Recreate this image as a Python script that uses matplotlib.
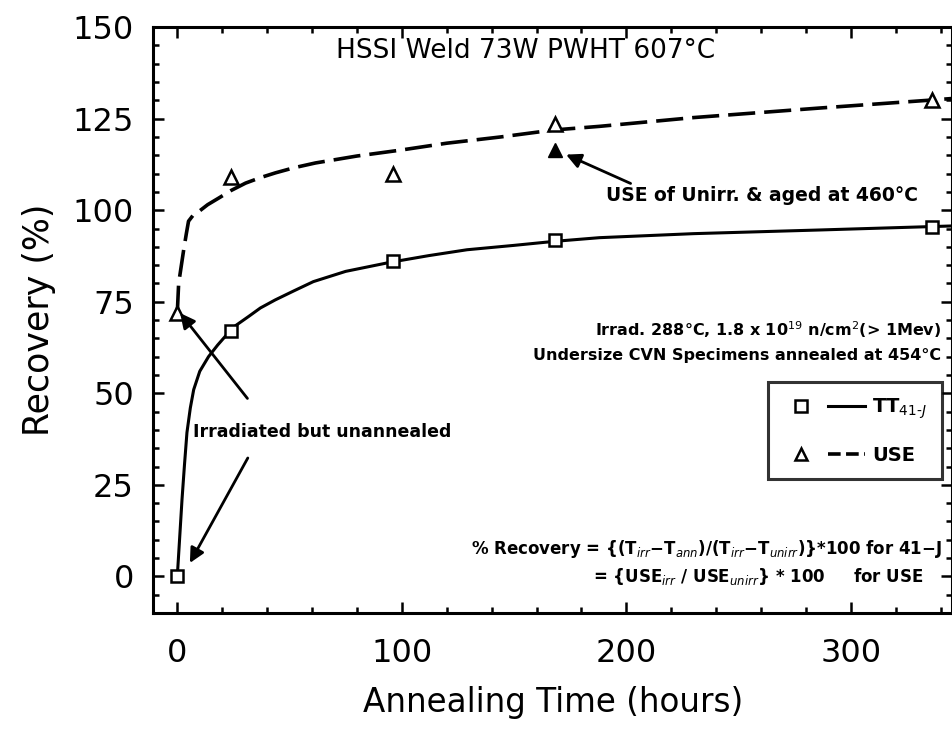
import numpy as np
import matplotlib
matplotlib.use("Agg")
import matplotlib.pyplot as plt
from matplotlib.lines import Line2D
from matplotlib.legend_handler import HandlerTuple
from matplotlib.ticker import MultipleLocator

# measured points
hours = [0, 24, 96, 168, 336]
tt41j = [0, 67, 86, 92, 95.5]
use = [72, 109, 110, 123.5, 130]
aged_x = [168]
aged_use = [116.5]

# fitted curves as drawn
tt_curve_x = [0, 1, 2.1, 3.2, 4.3, 5.8, 7.3, 10, 13.9, 18, 22, 26, 31.8, 37, 43.6,
              52, 60.6, 75, 95, 112, 129, 150, 168, 188, 230, 286, 345]
tt_curve_y = [0, 10, 21, 30.5, 39.3, 46, 51, 56, 60, 63.2, 66, 68.5, 71, 73.3, 75.5,
              78, 80.5, 83.3, 85.8, 87.6, 89.2, 90.4, 91.5, 92.5, 93.6, 94.6, 95.7]
use_curve_x = [0, 0.6, 1.7, 2.8, 4, 5, 7, 9.5, 13.5, 18.4, 24, 30.4, 37, 43.7, 52,
               61.5, 80, 99.3, 120, 143.9, 167.5, 188, 230, 286, 334, 345]
use_curve_y = [72, 80, 84.5, 89, 93.5, 97, 98.6, 99.6, 101.5, 103.3, 105.4, 107.4,
               108.9, 110.2, 111.6, 112.9, 114.8, 116.4, 118.3, 120, 121.9, 122.9,
               125.3, 127.9, 130, 130.5]

fig = plt.figure(figsize=(9.52, 7.33), dpi=100)
ax = fig.add_axes([0.161, 0.1637, 0.839, 0.7993])

ax.plot(tt_curve_x, tt_curve_y, color="black", lw=2.2, solid_joinstyle="round")
ax.plot(use_curve_x, use_curve_y, color="black", lw=2.6, dashes=(7.5, 2.5))
ax.plot(hours, tt41j, ls="none", marker="s", ms=9, mfc="white", mec="black", mew=1.8)
ax.plot(hours, use, ls="none", marker="^", ms=10, mfc="white", mec="black", mew=1.8)
ax.plot(aged_x, aged_use, ls="none", marker="^", ms=10, mfc="black", mec="black")

ax.set_xlim(-10.7, 345)
ax.set_ylim(-10, 150)
ax.xaxis.set_major_locator(MultipleLocator(100))
ax.xaxis.set_minor_locator(MultipleLocator(20))
ax.yaxis.set_major_locator(MultipleLocator(25))
ax.yaxis.set_minor_locator(MultipleLocator(5))
ax.tick_params(which="both", direction="in", top=True, right=True, width=1.8, labelsize=23)
ax.tick_params(which="major", length=8)
ax.tick_params(axis="x", which="major", pad=18)
ax.tick_params(axis="y", which="major", pad=14)
ax.tick_params(which="minor", length=4)
for s in ax.spines.values():
    s.set_linewidth(2.2)

ax.set_xlabel("Annealing Time (hours)", fontsize=23.5, labelpad=12)
ax.set_ylabel("Recovery (%)", fontsize=25, labelpad=12)

ax.text(0.466, 0.96, "HSSI Weld 73W PWHT 607°C", transform=ax.transAxes,
        ha="center", va="center", fontsize=19)

ax.text(0.987, 0.483, "Irrad. 288°C, 1.8 x 10$^{19}$ n/cm$^{2}$(> 1Mev)",
        transform=ax.transAxes, ha="right", va="center", fontsize=11.5, fontweight="bold")
ax.text(0.987, 0.439, "Undersize CVN Specimens annealed at 454°C",
        transform=ax.transAxes, ha="right", va="center", fontsize=11.5, fontweight="bold")

ax.text(0.987, 0.11, "% Recovery = {(T$_{irr}$−T$_{ann}$)/(T$_{irr}$−T$_{unirr}$)}*100 for 41−J",
        transform=ax.transAxes, ha="right", va="center", fontsize=12, fontweight="bold")
ax.text(0.965, 0.062, "= {USE$_{irr}$ / USE$_{unirr}$} * 100     for USE",
        transform=ax.transAxes, ha="right", va="center", fontsize=12, fontweight="bold")

ax.annotate("", xy=(0.5, 72.5), xytext=(32, 48),
            arrowprops=dict(arrowstyle="-|>", color="black", lw=2, mutation_scale=22))
ax.annotate("", xy=(5, 3), xytext=(32, 33),
            arrowprops=dict(arrowstyle="-|>", color="black", lw=2, mutation_scale=22))
ax.text(7, 39.5, "Irradiated but unannealed", ha="left", va="center",
        fontsize=12.5, fontweight="bold")

ax.annotate("", xy=(172, 115.5), xytext=(203, 107),
            arrowprops=dict(arrowstyle="-|>", color="black", lw=2, mutation_scale=22))
ax.text(191, 104, "USE of Unirr. & aged at 460°C", ha="left", va="center",
        fontsize=13.5, fontweight="bold")

h_tt = (Line2D([], [], ls="none", marker="s", ms=8, mfc="white", mec="black", mew=1.8),
        Line2D([], [], color="black", lw=2.2))
h_use = (Line2D([], [], ls="none", marker="^", ms=9, mfc="white", mec="black", mew=1.8),
         Line2D([], [], color="black", lw=2.6, dashes=(3.5, 1.5)))
leg = ax.legend([h_tt, h_use], ["TT$_{41\u2010J}$", "USE"],
                handler_map={tuple: HandlerTuple(ndivide=None, pad=0.4)},
                loc="upper right", bbox_to_anchor=(0.987, 0.394), borderaxespad=0,
                handlelength=4.2, fontsize=14, frameon=True, fancybox=False,
                edgecolor="black", borderpad=0.75, labelspacing=1.25, handletextpad=0.4)
leg.get_frame().set_linewidth(2.2)
for t in leg.get_texts():
    t.set_fontweight("bold")

fig.savefig("out.png", dpi=100)
